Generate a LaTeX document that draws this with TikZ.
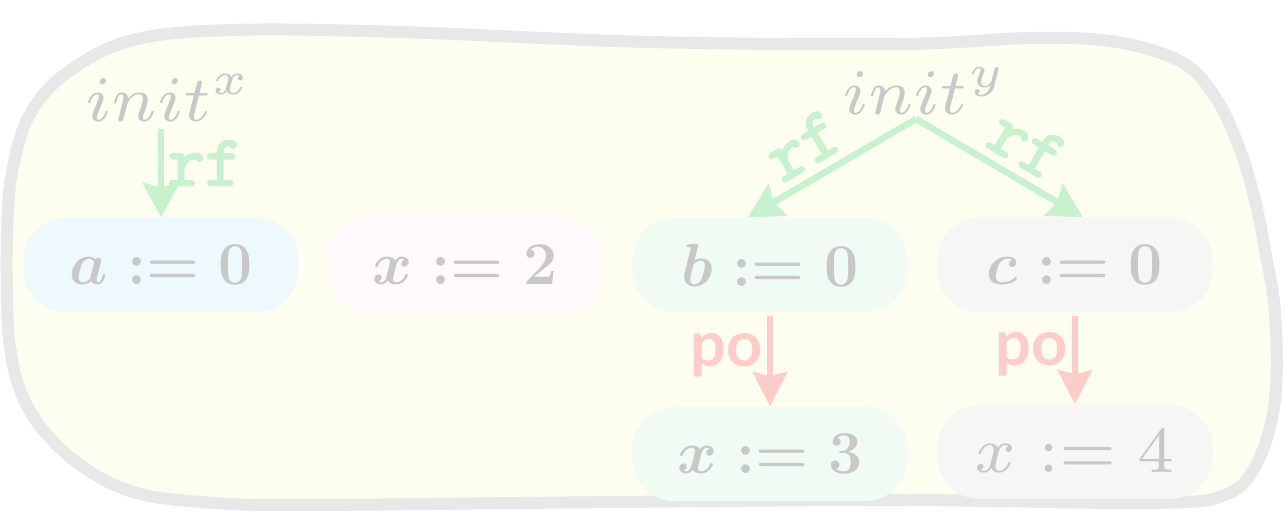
\documentclass[tikz,border=0pt]{standalone}
\usepackage{amsmath}
\usepackage{fontspec}
\usepackage{xcolor}
\newfontfamily\posans{Lato}
\newfontfamily\rfmono[FakeBold=3]{Latin Modern Mono}
\usetikzlibrary{arrows.meta,positioning}
\definecolor{blobfill}{HTML}{FDFDF0}
\definecolor{blobedge}{HTML}{E8E8E8}
\definecolor{eventgrey}{HTML}{C8C8C8}
\definecolor{rfgreen}{HTML}{C8F2CD}
\definecolor{pored}{HTML}{FFCDC8}
\definecolor{fillcyan}{HTML}{EEF9FD}
\definecolor{fillpink}{HTML}{FDF9FD}
\definecolor{fillgreen}{HTML}{F0FCF3}
\definecolor{fillgrey}{HTML}{F6F6F4}
\newcommand{\smallsized}[1]{\scalebox{2.65}{\fontsize{7}{8}\selectfont#1}}

\tikzset{
  event/.style={rounded corners=0.42cm,minimum width=2.75cm,minimum height=0.94cm,
    inner sep=0pt,text=eventgrey,font=\fontsize{19}{23}\selectfont\boldmath},
  plainevent/.style={event,font=\normalsize},
  initlbl/.style={inner sep=0pt,anchor=base,scale=2.63,text=eventgrey,font=\fontsize{7}{8}\selectfont},
  rfedge/.style={-{Stealth[length=0.34cm,width=0.36cm,inset=0.04cm]},line width=0.065cm,draw=rfgreen},
  poedge/.style={-{Stealth[length=0.34cm,width=0.34cm,inset=0.04cm]},line width=0.065cm,draw=pored},
  rflbl/.style={inner sep=1pt,text=rfgreen,font=\fontsize{20.5}{23}\selectfont\rfmono\bfseries},
  polbl/.style={inner sep=0pt,text=pored,font=\fontsize{18}{22}\selectfont\posans\bfseries},
}

\begin{document}
\begin{tikzpicture}
  \useasboundingbox (0,0) rectangle (12.84,5.12);
  % the enclosing blob
  \draw[line width=0.12cm,draw=blobedge,fill=blobfill] plot[smooth cycle,tension=0.6] coordinates {
    (2.33,4.82) (4.00,4.80) (6.50,4.70) (9.00,4.68) (10.33,4.74) (11.17,4.70)
    (11.83,4.49) (12.17,4.12) (12.40,3.62) (12.55,3.12) (12.65,2.62) (12.75,1.99)
    (12.75,1.12) (12.57,0.49) (12.25,0.17) (11.50,0.09) (9.00,0.12) (6.20,0.10)
    (3.00,0.07) (2.00,0.10) (1.33,0.20) (0.83,0.45) (0.43,0.82) (0.20,1.22)
    (0.10,1.65) (0.07,2.12) (0.07,2.79) (0.12,3.40) (0.30,3.98) (0.68,4.40) (1.33,4.72)};

  % events
  \node[event,fill=fillcyan]       (wa)  at (1.61,2.47)  {$a := 0$};
  \node[event,fill=fillpink]       (wx2) at (4.65,2.47)  {$x := 2$};
  \node[event,fill=fillgreen]      (wb)  at (7.70,2.47)  {$b := 0$};
  \node[event,fill=fillgrey]       (wc)  at (10.75,2.47) {$c := 0$};
  \node[event,fill=fillgreen]      (wx3) at (7.70,0.58)  {$x := 3$};
  \node[plainevent,fill=fillgrey]  (wx4) at (10.75,0.60) {\smallsized{$x := 4$}};

  % initial writes
  \node[initlbl] (ix) at (1.69,3.90) {$init^x$};
  \node[initlbl] (iy) at (9.25,3.97) {$init^y$};
  \coordinate (fork) at (9.16,3.93);

  % rf edges
  \draw[rfedge,shorten <=0.05cm] (wa.north |- ix.south) -- (wa.north)
    node[rflbl,pos=0.42,right] {rf};
  \draw[rfedge] (fork) -- ([xshift=-0.22cm]wb.north)
    node[rflbl,pos=0.57,sloped,above=1.5pt] {rf};
  \draw[rfedge] (fork) -- ([xshift=0.08cm]wc.north)
    node[rflbl,pos=0.56,sloped,above=1.5pt] {rf};

  % po edges
  \draw[poedge,shorten <=0.03cm] (wb) -- (wx3) node[polbl,pos=0.45,left=0.04cm] {po};
  \draw[poedge,shorten <=0.03cm] (wc) -- (wx4) node[polbl,pos=0.45,left=0.04cm] {po};
\end{tikzpicture}
\end{document}
